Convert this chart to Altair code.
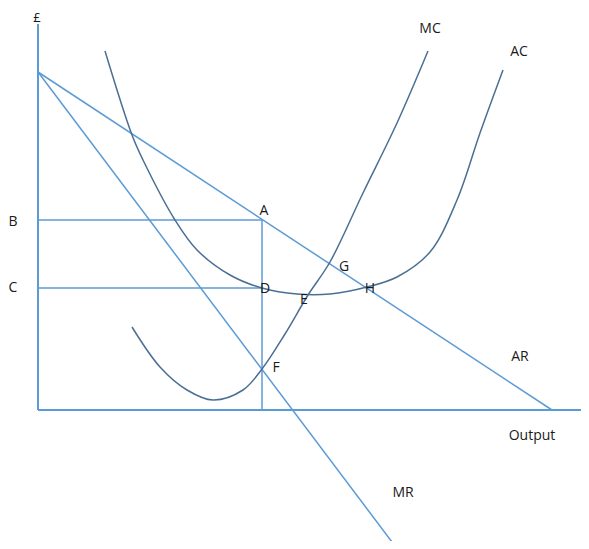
import altair as alt
import pandas as pd

# Curves (output, price), origin at the axes corner
mc_x = [94, 122, 149, 175, 205, 224, 247, 270, 292, 325, 359, 390]
mc_y = [83, 43, 20, 10, 20, 41, 76, 115, 148, 217, 287, 359]
ac_x = [67, 94, 105, 137, 159, 192, 224, 259, 292, 329, 359, 392, 419, 442, 465]
ac_y = [359, 275, 250, 190, 160, 135, 122, 116, 116, 123, 133, 158, 210, 277, 340]

# Straight lines: name, x values, y values
lines = {
    "AR": ([0, 514], [338, 0]),
    "MR": ([0, 357], [338, -136]),
    "Bline": ([0, 224], [190, 190]),
    "Cline": ([0, 224], [122, 122]),
    "Qline": ([224, 224], [0, 190]),
}
axes_lines = {
    "yaxis": ([0, 0], [0, 386]),
    "xaxis": ([0, 551], [0, 0]),
}

label_text = ["MC", "AC", "B", "C", "A", "G", "D", "E", "H", "F", "AR", "Output", "MR"]
label_x = [392, 481, -25, -25, 226, 306, 227, 266, 332, 238, 482, 494, 365]
label_y = [381, 358, 188, 122, 199, 143, 121, 110, 121, 42, 53, -26, -83]
pound_text = ["£"]
pound_x = [-1]
pound_y = [398]

LIGHT = "#5b9bd5"
DARK = "#4a6f94"

xs = alt.Scale(domain=[-30, 543], range=[0, 573])
ys = alt.Scale(domain=[-131, 402], range=[533, 0])

def line_df(d):
    rows = []
    for name, (xv, yv) in d.items():
        for i, (a, b) in enumerate(zip(xv, yv)):
            rows.append({"name": name, "i": i, "x": a, "y": b})
    return pd.DataFrame(rows)

straight = alt.Chart(line_df(lines)).mark_line(color=LIGHT, strokeWidth=1.5, clip=False).encode(
    x=alt.X("x:Q", scale=xs, axis=None),
    y=alt.Y("y:Q", scale=ys, axis=None),
    detail="name:N",
    order="i:Q",
)
axes = alt.Chart(line_df(axes_lines)).mark_line(color=LIGHT, strokeWidth=2, clip=False).encode(
    x=alt.X("x:Q", scale=xs, axis=None),
    y=alt.Y("y:Q", scale=ys, axis=None),
    detail="name:N",
    order="i:Q",
)

curves_df = pd.concat([
    pd.DataFrame({"name": "MC", "x": mc_x, "y": mc_y}),
    pd.DataFrame({"name": "AC", "x": ac_x, "y": ac_y}),
])
curves = alt.Chart(curves_df).mark_line(color=DARK, strokeWidth=1.5, interpolate="catmull-rom", clip=False).encode(
    x=alt.X("x:Q", scale=xs, axis=None),
    y=alt.Y("y:Q", scale=ys, axis=None),
    detail="name:N",
    order="x:Q",
)

labels = alt.Chart(pd.DataFrame({"t": label_text, "x": label_x, "y": label_y})).mark_text(
    font="Open Sans", fontSize=14, color="#1a1a1a", align="center", baseline="middle", clip=False
).encode(
    x=alt.X("x:Q", scale=xs, axis=None),
    y=alt.Y("y:Q", scale=ys, axis=None),
    text="t:N",
)

pound = alt.Chart(pd.DataFrame({"t": pound_text, "x": pound_x, "y": pound_y})).mark_text(
    font="Open Sans", fontSize=13, color="#1a1a1a", align="center", baseline="top", clip=False
).encode(
    x=alt.X("x:Q", scale=xs, axis=None),
    y=alt.Y("y:Q", scale=ys, axis=None),
    text="t:N",
)

chart = alt.layer(axes, straight, curves, labels, pound).properties(
    width=573, height=533, padding=0, autosize=alt.AutoSizeParams(type="none")
).configure_view(stroke=None)

chart.save("out.html", embed_options={"renderer": "svg", "actions": False})
